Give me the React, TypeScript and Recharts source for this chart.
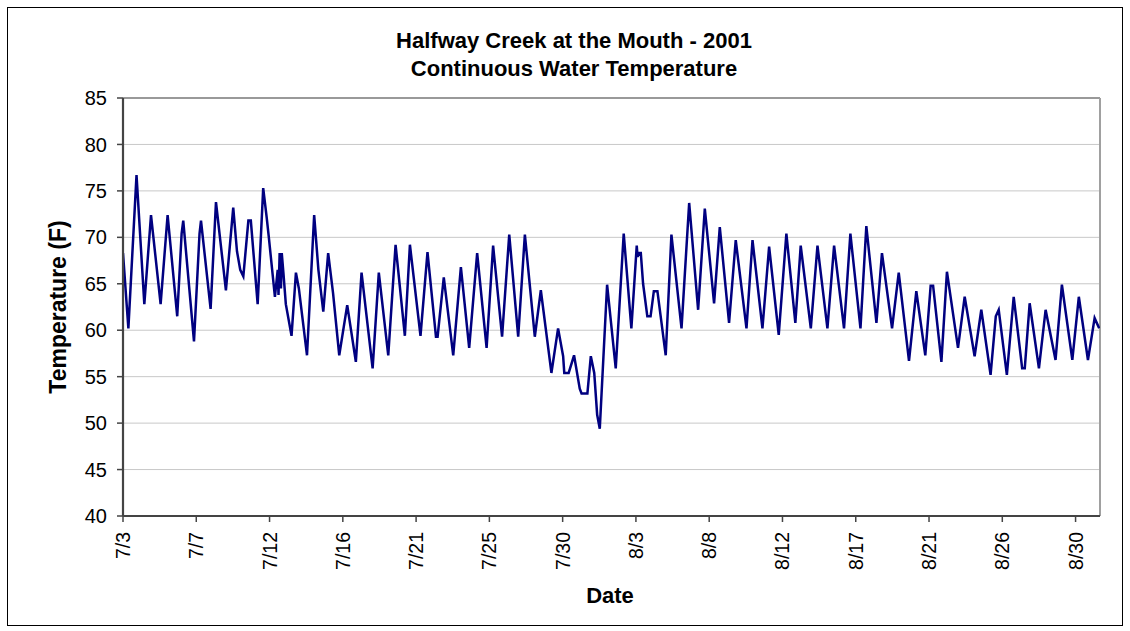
import React from 'react';
import { LineChart, Line, XAxis, YAxis, CartesianGrid, ReferenceLine } from 'recharts';

// Days since 7/3/2001 00:00 and water temperature (F)
const readingDays = [
  0, 0.33, 0.83, 1.31, 1.72, 2.31, 2.74, 3.33, 3.6, 3.7, 4.36, 4.7, 4.79, 5.38, 5.71, 6.32, 6.77,
  7.0, 7.2, 7.39, 7.7, 7.85, 8.27, 8.61, 8.82, 8.95, 9.33, 9.5, 9.55, 9.62, 9.7, 9.75, 9.85, 10.0,
  10.35, 10.62, 10.8, 11.3, 11.74, 12.0, 12.3, 12.6, 12.9, 13.28, 13.77, 14.3, 14.65, 15.33, 15.71,
  16.29, 16.74, 17.31, 17.62, 18.27, 18.7, 19.22, 19.32, 19.7, 20.28, 20.75, 21.26, 21.75, 22.33,
  22.73, 23.28, 23.72, 24.27, 24.68, 25.29, 25.66, 26.31, 26.72, 27.03, 27.1, 27.37, 27.7, 28.05,
  28.16, 28.52, 28.73, 28.94, 29.12, 29.28, 29.73, 30.26, 30.75, 31.22, 31.55, 31.6, 31.7, 31.8,
  31.94, 32.2, 32.4, 32.6, 32.82, 33.33, 33.68, 34.3, 34.77, 35.32, 35.73, 36.3, 36.65, 37.22,
  37.63, 38.29, 38.66, 39.27, 39.68, 40.27, 40.74, 41.29, 41.62, 42.24, 42.65, 43.26, 43.67,
  44.28, 44.67, 45.29, 45.65, 46.27, 46.61, 47.23, 47.64, 48.27, 48.72, 49.27, 49.6, 49.75,
  50.26, 50.6, 51.28, 51.69, 52.3, 52.71, 53.28, 53.6, 53.78, 54.28, 54.7, 55.22, 55.38, 55.68,
  56.25, 56.66, 57.27, 57.66, 58.3, 58.7, 59.26, 59.67, 59.95,
];
const readingTemps = [
  68.3, 60.2, 76.7, 62.8, 72.4, 62.8, 72.4, 61.5, 70.4, 71.8, 58.8, 70.4, 71.8, 62.3, 73.8, 64.3, 73.2,
  68.5, 66.5, 65.8, 71.8, 71.8, 62.8, 75.3, 72.2, 70.1, 63.6, 66.5, 63.8, 68.3, 64.5, 68.3, 66.2, 62.8,
  59.4, 66.2, 64.5, 57.3, 72.4, 66.5, 62.0, 68.3, 64.0, 57.3, 62.7, 56.6, 66.2, 55.9, 66.2,
  57.3, 69.2, 59.4, 69.2, 59.4, 68.4, 59.3, 59.3, 65.7, 57.3, 66.8, 58.1, 68.3, 58.1,
  69.1, 59.3, 70.3, 59.3, 70.3, 59.3, 64.3, 55.4, 60.2, 57.2, 55.4, 55.4, 57.3, 53.7,
  53.2, 53.2, 57.2, 55.4, 50.9, 49.4, 64.9, 55.9, 70.4, 60.2, 69.1, 67.9, 68.3, 68.3,
  65.0, 61.5, 61.5, 64.2, 64.2, 57.3, 70.3, 60.2, 73.7, 62.2, 73.1, 62.9, 71.1, 60.8,
  69.7, 60.2, 69.7, 60.2, 69.0, 59.5, 70.4, 60.8, 69.1, 60.2, 69.1, 60.2, 69.1,
  60.2, 70.4, 60.2, 71.2, 60.8, 68.3, 60.2, 66.2, 56.7, 64.2, 57.3, 64.8, 64.8,
  56.6, 66.3, 58.1, 63.6, 57.2, 62.2, 55.2, 61.5, 62.2, 55.2, 63.6, 55.9, 55.9, 62.9,
  55.9, 62.2, 56.8, 64.9, 56.8, 63.6, 56.8, 61.3, 60.2,
];

const dateTicks = [0, 4.5, 9, 13.5, 18, 22.5, 27, 31.5, 36, 40.5, 45, 49.5, 54, 58.5];
const dateTickLabels = ['7/3', '7/7', '7/12', '7/16', '7/21', '7/25', '7/30', '8/3', '8/8', '8/12', '8/17', '8/21', '8/26', '8/30'];
const tempTicks = [40, 45, 50, 55, 60, 65, 70, 75, 80, 85];

const data = readingDays.map((t, i) => ({ t, temp: readingTemps[i] }));

const FONT = '"Liberation Sans", Arial, sans-serif';

const XTick = (props: any) => {
  const { x, y, payload } = props;
  const idx = dateTicks.indexOf(payload.value);
  const label = idx >= 0 ? dateTickLabels[idx] : '';
  const ty = y + 8;
  return (
    <text
      x={x}
      y={ty}
      transform={`rotate(-90 ${x} ${ty})`}
      textAnchor="end"
      dominantBaseline="central"
      fontSize={19.5}
      fontFamily={FONT}
      fill="#000"
    >
      {label}
    </text>
  );
};

export default function App() {
  return (
    <div style={{ position: 'absolute', left: 0, top: 0, width: 1130, height: 631, background: '#fff', fontFamily: FONT }}>
      <div style={{ position: 'absolute', left: 7, top: 7, width: 1114, height: 617, border: '1px solid #000' }} />
      <div style={{ position: 'absolute', left: 274, top: 27, width: 600, textAlign: 'center', fontWeight: 'bold', fontSize: 22, lineHeight: '28.4px', color: '#000' }}>
        <div>Halfway Creek at the Mouth - 2001</div>
        <div>Continuous Water Temperature</div>
      </div>
      <div style={{ position: 'absolute', left: 57.5 - 150, top: 306.5 - 14, width: 300, height: 28, lineHeight: '28px', textAlign: 'center', transform: 'rotate(-90deg)', fontWeight: 'bold', fontSize: 23, color: '#000', whiteSpace: 'nowrap' }}>
        Temperature (F)
      </div>
      <div style={{ position: 'absolute', left: 510, top: 581.5, width: 200, height: 28, lineHeight: '28px', textAlign: 'center', fontWeight: 'bold', fontSize: 22, color: '#000' }}>
        Date
      </div>
      <div style={{ position: 'absolute', left: 0, top: 0 }}>
        <LineChart width={1130} height={631} data={data} margin={{ top: 98, right: 30, bottom: 0, left: 63 }}>
          <CartesianGrid horizontal={true} vertical={false} stroke="#c8c8c8" strokeWidth={1} />
          <XAxis
            dataKey="t"
            type="number"
            domain={[0, 60]}
            ticks={dateTicks}
            interval={0}
            height={115}
            tick={<XTick />}
            tickSize={6}
            axisLine={{ stroke: '#444', strokeWidth: 2.2 }}
            tickLine={{ stroke: '#444', strokeWidth: 1.5 }}
            allowDataOverflow
          />
          <YAxis
            type="number"
            domain={[40, 85]}
            ticks={tempTicks}
            interval={0}
            width={60}
            tickSize={6}
            tickMargin={10}
            tick={{ fontSize: 20, fill: '#000', fontFamily: FONT }}
            axisLine={{ stroke: '#444', strokeWidth: 2.2 }}
            tickLine={{ stroke: '#444', strokeWidth: 1.5 }}
            allowDataOverflow
          />
          <ReferenceLine y={85} stroke="#808080" strokeWidth={1.5} />
          <ReferenceLine x={60} stroke="#a0a0a0" strokeWidth={2} />
          <Line type="linear" dataKey="temp" stroke="#000080" strokeWidth={2.5} dot={false} isAnimationActive={false} />
        </LineChart>
      </div>
    </div>
  );
}
